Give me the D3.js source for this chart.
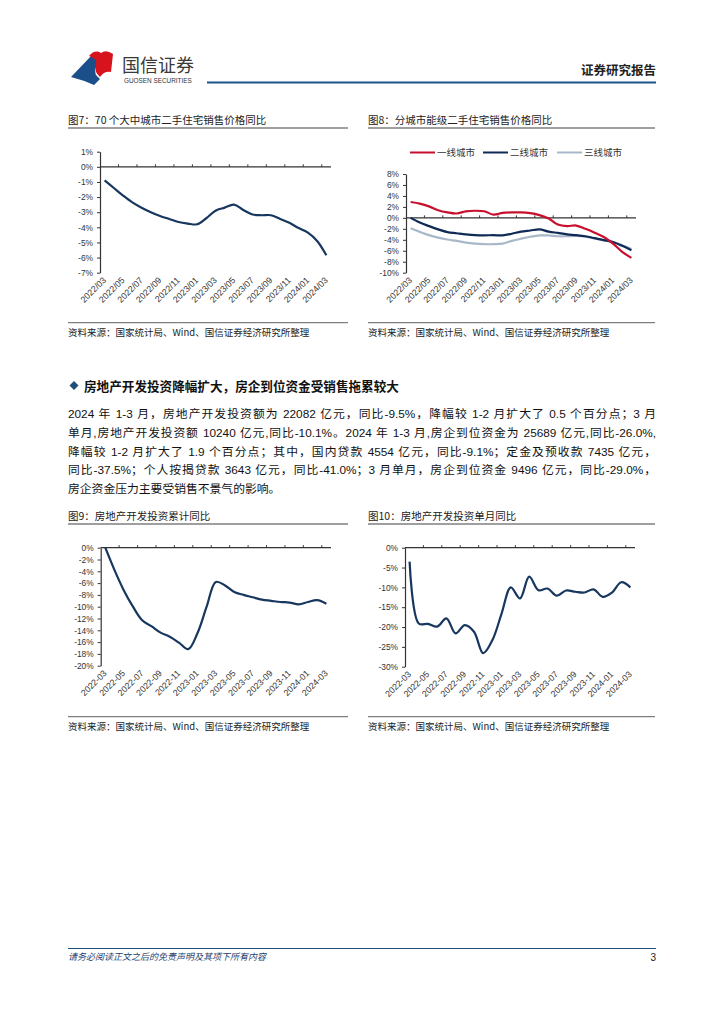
<!DOCTYPE html>
<html>
<head>
<meta charset="utf-8">
<script src="https://cdn.jsdelivr.net/npm/d3@7"></script>
<style>
body{margin:0;background:#fff;}
#page{position:relative;width:724px;height:1024px;overflow:hidden;font-family:"Noto Sans CJK SC",sans-serif;}
#page svg{position:absolute;left:0;top:0;}
.para{position:absolute;left:68px;top:405px;width:588px;font-family:"Liberation Sans","Noto Sans CJK SC",sans-serif;font-size:11.8px;line-height:18.8px;color:#111;}
.para div{text-align:justify;text-align-last:justify;}
.para div.last{text-align-last:left;}
</style>
</head>
<body>
<div id="page">
<svg id="chart" width="724" height="1024"></svg>
<div class="para">
<div>2024 年 1-3 月，房地产开发投资额为 22082 亿元，同比-9.5%，降幅较 1-2 月扩大了 0.5 个百分点；3 月</div>
<div>单月,房地产开发投资额 10240 亿元,同比-10.1%。2024 年 1-3 月,房企到位资金为 25689 亿元,同比-26.0%,</div>
<div>降幅较 1-2 月扩大了 1.9 个百分点；其中，国内贷款 4554 亿元，同比-9.1%；定金及预收款 7435 亿元，</div>
<div>同比-37.5%；个人按揭贷款 3643 亿元，同比-41.0%；3 月单月，房企到位资金 9496 亿元，同比-29.0%，</div>
<div class="last">房企资金压力主要受销售不景气的影响。</div>
</div>
</div>
<script>
// 月份
var months_slash = ['2022/03','2022/04','2022/05','2022/06','2022/07','2022/08','2022/09','2022/10','2022/11','2022/12',
	'2023/01','2023/02','2023/03','2023/04','2023/05','2023/06','2023/07','2023/08','2023/09','2023/10','2023/11','2023/12',
	'2024/01','2024/02','2024/03'];
var months_dash = ['2022-03','2022-04','2022-05','2022-06','2022-07','2022-08','2022-09','2022-10','2022-11','2022-12',
	'2023-01','2023-02','2023-03','2023-04','2023-05','2023-06','2023-07','2023-08','2023-09','2023-10','2023-11','2023-12',
	'2024-01','2024-02','2024-03'];

// 图7 70城二手住宅
var city70 = [-0.9,-1.4,-1.9,-2.35,-2.7,-3.0,-3.25,-3.45,-3.65,-3.75,-3.8,-3.4,-2.9,-2.7,-2.5,-2.85,-3.15,-3.2,-3.2,-3.45,-3.7,-4.05,-4.35,-4.9,-5.85];

// 图8 分城市能级
var tier1 = [2.9,2.6,2.1,1.4,1.0,0.8,1.2,1.3,1.2,0.6,0.9,1.0,1.0,0.85,0.5,-0.1,-1.2,-1.5,-1.4,-2.0,-2.7,-3.5,-4.7,-6.2,-7.3];
var tier2 = [0.0,-0.85,-1.5,-2.1,-2.6,-2.8,-3.0,-3.15,-3.2,-3.15,-3.2,-2.9,-2.5,-2.3,-2.1,-2.5,-2.75,-3.0,-3.15,-3.35,-3.7,-4.05,-4.4,-5.1,-5.9];
var tier3 = [-1.9,-2.55,-3.15,-3.6,-3.95,-4.2,-4.5,-4.7,-4.8,-4.8,-4.7,-4.2,-3.8,-3.45,-3.2,-3.2,-3.35,-3.35,-3.3,-3.45,-3.75,-4.1,-4.4,-5.0,-5.7];
var tier_names = ['一线城市','二线城市','三线城市'];

// 图9 / 图10
var invest_cum = [0.0,-3.8,-7.2,-10.0,-12.3,-13.3,-14.4,-15.1,-16.1,-17.2,-14.5,-10.0,-5.8,-6.4,-7.5,-8.0,-8.4,-8.8,-9.0,-9.2,-9.3,-9.6,-9.2,-8.9,-9.5];
var invest_month = [-3.5,-19.1,-19.2,-19.9,-17.8,-21.6,-19.5,-21.2,-26.6,-23.3,-16.6,-10.0,-12.8,-7.3,-10.7,-10.3,-12.1,-10.8,-11.1,-11.3,-10.5,-12.4,-11.3,-8.7,-10.0];

var ticks7 = [1,0,-1,-2,-3,-4,-5,-6,-7];
var ticks8 = [8,6,4,2,0,-2,-4,-6,-8,-10];
var ticks9 = [0,-2,-4,-6,-8,-10,-12,-14,-16,-18,-20];
var ticks10 = [0,-5,-10,-15,-20,-25,-30];

var source_text = '资料来源：国家统计局、Wind、国信证券经济研究所整理';
var NAVY = '#17375e', RED = '#c8102e', GRAY = '#a9b8c9';

var svg = d3.select('#chart');

// 页眉
function header(){
	var g = svg.append('g');
	g.append('path').attr('d','M71,77 L93,54 Q99,60 96,67 Q93,74 100,79 L94,85 Q83,80 71,77 Z').attr('fill','#1a4f8a');
	g.append('path').attr('d','M89,56 Q95,49 101,53 Q106,49 113,54 L111,72 Q104,71 100,77 Q94,72 96,65 Q98,59 89,56 Z').attr('fill','#d7141e');
	g.append('text').attr('x',122).attr('y',72).attr('font-size',18).attr('fill','#3a3a3a').text('国信证券');
	g.append('text').attr('x',124).attr('y',83).attr('font-size',6.4).attr('font-family','Liberation Sans').attr('fill','#333').text('GUOSEN SECURITIES');
	g.append('line').attr('x1',207).attr('x2',656).attr('y1',82.5).attr('y2',82.5).attr('stroke','#1b5488').attr('stroke-width',2.2);
	g.append('text').attr('x',656).attr('y',75).attr('text-anchor','end').attr('font-size',12.5).attr('font-weight','bold').attr('fill','#222').text('证券研究报告');

	g.append('line').attr('x1',68).attr('x2',656).attr('y1',948.5).attr('y2',948.5).attr('stroke','#1f4e79').attr('stroke-width',1);
	g.append('text').attr('x',68).attr('y',960).attr('font-size',9).attr('font-style','italic').attr('fill','#1f3f6f').text('请务必阅读正文之后的免责声明及其项下所有内容');
	g.append('text').attr('x',656).attr('y',961).attr('text-anchor','end').attr('font-size',10).attr('font-family','Liberation Sans').attr('fill','#222').text('3');

	g.append('path').attr('d','M74,381 L78.5,385.5 L74,390 L69.5,385.5 Z').attr('fill','#1f4e79');
	g.append('text').attr('x',84).attr('y',390.5).attr('font-size',12.6).attr('font-weight','bold').attr('fill','#111').text('房地产开发投资降幅扩大，房企到位资金受销售拖累较大');
}

function frame(x, x2, title, yTitle, ySource){
	svg.append('text').attr('x',x).attr('y',yTitle).attr('font-size',10.5).attr('fill','#222').text(title);
	svg.append('line').attr('x1',x).attr('x2',x2).attr('y1',yTitle+4.5).attr('y2',yTitle+4.5).attr('stroke','#7f7f7f').attr('stroke-width',1.3);
	svg.append('line').attr('x1',x).attr('x2',x2).attr('y1',ySource).attr('y2',ySource).attr('stroke','#7f7f7f').attr('stroke-width',1.3);
	svg.append('text').attr('x',x).attr('y',ySource+13).attr('font-size',9.5).attr('fill','#222').text(source_text);
}

function drawChart(opt){
	var g = svg.append('g');
	var x = d3.scaleBand().domain(opt.cats).range([opt.x0, opt.x1]);
	var y = d3.scaleLinear().domain(opt.yDomain).range([opt.yBottom, opt.yTop]);
	var bw = x.bandwidth();

	var ya = g.append('g').attr('transform','translate(' + opt.x0 + ',0)')
		.call(d3.axisLeft(y).tickValues(opt.yTicks).tickSize(3).tickSizeOuter(0).tickPadding(4).tickFormat(function(d){ return d + '%'; }));
	ya.select('.domain').attr('stroke','#333').attr('stroke-width',1.2);
	ya.selectAll('.tick line').attr('stroke','#333');
	ya.selectAll('.tick text').attr('font-size',8.4).attr('font-family','Liberation Sans').attr('fill','#333');

	// 零轴
	g.append('line').attr('x1',opt.x0).attr('x2',opt.x1).attr('y1',y(0)).attr('y2',y(0)).attr('stroke','#333').attr('stroke-width',1.2);
	opt.cats.forEach(function(c, i){
		if(i > 0 && i % 2 == 0){
			g.append('line').attr('x1',x(c)).attr('x2',x(c)).attr('y1',y(0)).attr('y2',y(0)-2.5).attr('stroke','#333');
		}
	});

	// 横轴标签
	opt.cats.forEach(function(c, i){
		if(i % 2 == 0){
			var px = x(c) + bw/2 + 2, py = opt.yBottom + 8;
			g.append('text').attr('transform','translate(' + px + ',' + py + ') rotate(-45)')
				.attr('text-anchor','end').attr('font-size',8.8).attr('font-family','Liberation Sans').attr('fill','#333').text(c);
		}
	});

	var line = d3.line()
		.x(function(d, i){ return x(opt.cats[i]) + bw/2; })
		.y(function(d){ return y(d); })
		.curve(d3.curveCatmullRom.alpha(0.5));

	opt.series.forEach(function(s){
		g.append('path').datum(s.values).attr('d', line).attr('fill','none')
			.attr('stroke', s.color).attr('stroke-width', 2.2).attr('stroke-linejoin','round');
	});
}

header();

frame(68, 348, '图7：70 个大中城市二手住宅销售价格同比', 123.5, 322.7);
frame(368, 655, '图8：分城市能级二手住宅销售价格同比', 123.5, 322.7);
frame(68, 348, '图9：房地产开发投资累计同比', 519.5, 716.7);
frame(368, 655, '图10：房地产开发投资单月同比', 519.5, 716.7);

drawChart({cats: months_slash, x0: 100, x1: 331, yDomain: [-7, 1], yBottom: 272.7, yTop: 151.7, yTicks: ticks7,
	series: [{values: city70, color: NAVY}]});

drawChart({cats: months_slash, x0: 406, x1: 636, yDomain: [-10, 8], yBottom: 272.7, yTop: 174, yTicks: ticks8,
	series: [{values: tier3, color: GRAY}, {values: tier2, color: '#0f2b55'}, {values: tier1, color: RED}]});

drawChart({cats: months_dash, x0: 100.7, x1: 331, yDomain: [-20, 0], yBottom: 665.7, yTop: 547.7, yTicks: ticks9,
	series: [{values: invest_cum, color: NAVY}]});

drawChart({cats: months_dash, x0: 405, x1: 635, yDomain: [-30, 0], yBottom: 666.7, yTop: 547.7, yTicks: ticks10,
	series: [{values: invest_month, color: NAVY}]});

// 图8 图例
var legend_x = [410, 483, 557];
var legend_c = [RED, '#0f2b55', GRAY];
tier_names.forEach(function(n, i){
	svg.append('line').attr('x1',legend_x[i]).attr('x2',legend_x[i]+25).attr('y1',152.5).attr('y2',152.5)
		.attr('stroke',legend_c[i]).attr('stroke-width',2);
	svg.append('text').attr('x',legend_x[i]+27).attr('y',156).attr('font-size',9.5).attr('fill','#333').text(n);
});
</script>
</body>
</html>
